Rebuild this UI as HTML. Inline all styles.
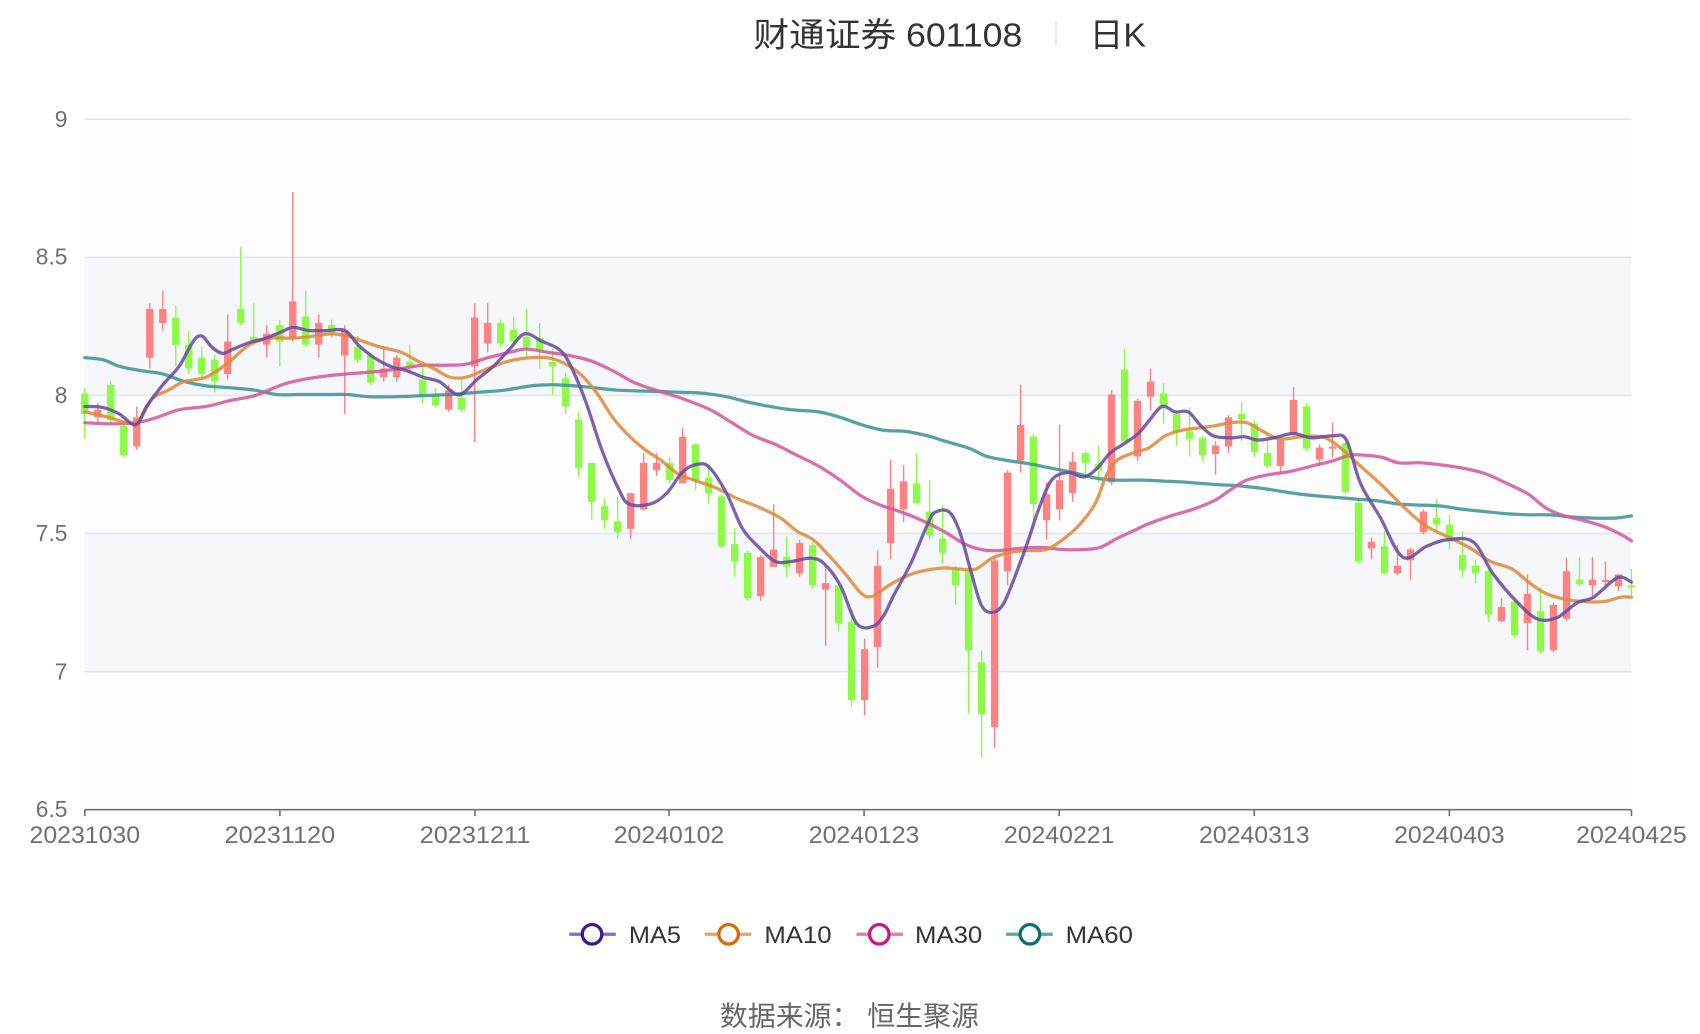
<!DOCTYPE html>
<html><head><meta charset="utf-8"><style>
html,body{margin:0;padding:0;background:#fff;}
svg{display:block;}
</style></head><body>
<svg id="c" width="1700" height="1034" viewBox="0 0 1568 954" xmlns="http://www.w3.org/2000/svg" font-family="'Liberation Sans','Noto Sans CJK SC',sans-serif">
<rect x="0" y="0" width="1568" height="954" fill="#fff"/>
<rect x="78" y="110" width="1427" height="127.4" fill="#fdfdfe"/>
<rect x="78" y="237.4" width="1427" height="127.4" fill="#f5f7fb"/>
<rect x="78" y="364.8" width="1427" height="127.4" fill="#fdfdfe"/>
<rect x="78" y="492.2" width="1427" height="127.4" fill="#f5f7fb"/>
<rect x="78" y="619.6" width="1427" height="127.4" fill="#fdfdfe"/>
<g stroke="#e0e6f1" stroke-width="1.5">
<line x1="78" x2="1505" y1="110" y2="110"/><line x1="78" x2="1505" y1="237.4" y2="237.4"/>
<line x1="78" x2="1505" y1="364.8" y2="364.8"/><line x1="78" x2="1505" y1="492.2" y2="492.2"/>
<line x1="78" x2="1505" y1="619.6" y2="619.6"/>
</g>
<g fill="#6e7079" font-size="21" text-anchor="end">
<text x="62" y="117">9</text><text x="62" y="244">8.5</text><text x="62" y="372">8</text>
<text x="62" y="499">7.5</text><text x="62" y="627">7</text><text x="62" y="754">6.5</text>
</g>
<g id="candles"></g>
<g id="lines" fill="none" stroke-width="3" stroke-linejoin="round" stroke-linecap="round"></g>
<line x1="78" x2="1505" y1="747" y2="747" stroke="#6e7079" stroke-width="1.5"/>
<g id="ticks" stroke="#6e7079" stroke-width="1.5"></g>
<g fill="#6e7079" font-size="22" text-anchor="middle">
<text x="78" y="778" textLength="102" lengthAdjust="spacingAndGlyphs">20231030</text>
<text x="258" y="778" textLength="102" lengthAdjust="spacingAndGlyphs">20231120</text>
<text x="438" y="778" textLength="102" lengthAdjust="spacingAndGlyphs">20231211</text>
<text x="617" y="778" textLength="102" lengthAdjust="spacingAndGlyphs">20240102</text>
<text x="797" y="778" textLength="102" lengthAdjust="spacingAndGlyphs">20240123</text>
<text x="977" y="778" textLength="102" lengthAdjust="spacingAndGlyphs">20240221</text>
<text x="1157" y="778" textLength="102" lengthAdjust="spacingAndGlyphs">20240313</text>
<text x="1337" y="778" textLength="102" lengthAdjust="spacingAndGlyphs">20240403</text>
<text x="1505" y="778" textLength="102" lengthAdjust="spacingAndGlyphs">20240425</text>
</g>
<text x="695" y="43" font-size="31" fill="#333" textLength="248" lengthAdjust="spacingAndGlyphs">财通证券 601108</text>
<line x1="974" x2="974" y1="20" y2="42" stroke="#e6e6e6" stroke-width="1.5"/>
<text x="1005" y="43" font-size="31" fill="#333" textLength="52" lengthAdjust="spacingAndGlyphs">日K</text>
<g stroke-width="3">
<line x1="525" x2="568" y1="862" y2="862" stroke="#8a6cc0"/><circle cx="546" cy="862" r="9" fill="#fff" stroke="#3b1a8c"/>
<line x1="650" x2="693" y1="862" y2="862" stroke="#e8a46a"/><circle cx="672" cy="862" r="9" fill="#fff" stroke="#d46b0c"/>
<line x1="790" x2="833" y1="862" y2="862" stroke="#e07ab5"/><circle cx="811" cy="862" r="9" fill="#fff" stroke="#c71a7a"/>
<line x1="928" x2="971" y1="862" y2="862" stroke="#5aa5a5"/><circle cx="950" cy="862" r="9" fill="#fff" stroke="#0a6e6e"/>
</g>
<g font-size="22" fill="#333">
<text x="580" y="870" textLength="48" lengthAdjust="spacingAndGlyphs">MA5</text>
<text x="705" y="870" textLength="62" lengthAdjust="spacingAndGlyphs">MA10</text>
<text x="844" y="870" textLength="62" lengthAdjust="spacingAndGlyphs">MA30</text>
<text x="983" y="870" textLength="62" lengthAdjust="spacingAndGlyphs">MA60</text>
</g>
<text x="664" y="946" font-size="25" fill="#666" textLength="239" lengthAdjust="spacingAndGlyphs">数据来源：  恒生聚源</text>
</svg>
<script>
var NS="http://www.w3.org/2000/svg";
function el(p,t,a){var e=document.createElementNS(NS,t);for(var k in a)e.setAttribute(k,a[k]);p.appendChild(e);return e;}
var tk=document.getElementById('ticks');
[78,258,438,617,797,977,1157,1337,1505].forEach(function(x){el(tk,'line',{x1:x,x2:x,y1:747,y2:753});});
var C=[
['g',363,382,358,405],['r',378,385,372,392],['g',355,388,352,390],['g',393,420,388,422],['r',385,412,375,415],
['r',285,330,280,340],['r',285,298,268,305],['g',293,318,282,338],['g',318,340,305,345],['g',330,345,320,350],
['g',332,352,327,362],['r',315,345,290,350],['g',285,298,228,300],['g',311,314,280,318],['r',308,318,300,330],
['g',300,315,295,338],['r',278,312,177,315],['g',292,318,268,320],['r',298,318,290,330],['g',300,307,295,312],
['r',305,328,300,382],['g',320,332,310,335],['g',328,353,325,355],['r',340,348,320,352],['r',330,348,328,352],
['g',334,338,318,342],['g',350,366,338,372],['g',364,374,358,376],['r',360,378,355,380],['g',367,378,348,380],
['r',293,338,280,408],['r',298,317,280,325],['g',298,317,295,320],['g',304,315,292,320],['g',311,320,285,330],
['g',312,323,298,340],['g',334,338,322,364],['g',349,375,344,382],['g',387,432,380,440],['g',427,463,427,480],
['g',467,480,460,488],['g',481,491,458,497],['r',455,488,455,497],['r',427,470,418,471],['r',427,434,418,439],
['g',427,443,422,446],['r',403,446,395,446],['g',410,443,409,452],['g',441,455,429,465],['g',458,504,456,506],
['g',502,518,487,532],['g',510,552,508,554],['r',514,550,512,554],['r',507,523,465,523],['g',514,523,495,532],
['r',501,529,498,532],['g',503,540,500,543],['r',538,544,522,596],['g',540,575,538,582],['g',574,646,562,652],
['r',599,646,589,660],['r',522,597,508,616],['r',451,501,424,516],['r',444,470,429,482],['g',446,464,418,465],
['g',472,494,443,498],['g',497,510,466,520],['g',526,540,522,558],['g',526,600,522,658],['g',611,659,600,699],
['r',517,671,514,690],['r',436,527,434,540],['r',392,425,355,436],['g',403,465,400,487],['r',456,480,445,498],
['r',443,470,392,480],['r',426,455,417,463],['g',418,427,416,441],['g',428,434,411,445],['r',364,445,360,448],
['g',341,407,322,410],['r',370,421,368,425],['r',352,366,340,379],['g',363,375,353,391],['g',382,399,380,411],
['g',398,405,376,421],['g',404,420,402,426],['r',411,419,407,438],['r',385,412,383,418],['g',382,387,371,407],
['g',391,417,388,422],['g',418,430,405,432],['r',406,430,404,437],['r',369,400,357,402],['g',375,414,372,416],
['r',413,424,410,430],['r',412,414,390,422],['g',409,454,407,456],['g',464,518,460,520],['r',500,506,496,516],
['g',504,529,490,530],['r',522,529,503,531],['r',507,517,505,535],['r',472,491,470,493],['g',478,484,460,490],
['g',484,500,475,507],['g',512,526,490,533],['g',522,529,516,538],['g',527,567,525,574],['r',560,573,552,574],
['g',555,586,553,588],['r',548,575,530,600],['g',564,601,542,603],['r',558,600,556,602],['r',527,571,515,573],
['g',535,539,514,541],['r',535,540,514,550],['r',535,537,518,540],['r',530,541,530,545],['g',540,542,525,550]
];
var cg=document.getElementById('candles');
var N=C.length, step=(1505-78)/(N-1);
C.forEach(function(c,i){
  var x=78+i*step, col=c[0]=='r'?'#ff8282':'#8cfa46';
  el(cg,'line',{x1:x,x2:x,y1:c[3],y2:c[4],stroke:col,'stroke-width':1.3});
  el(cg,'rect',{x:x-3.4,y:c[1],width:6.8,height:Math.max(2,c[2]-c[1]),fill:col});
});
function path(pts){
  var d='M'+pts[0][0]+','+pts[0][1];
  for(var i=0;i<pts.length-1;i++){
    var p0=pts[i-1]||pts[i],p1=pts[i],p2=pts[i+1],p3=pts[i+2]||p2;
    var c1=[p1[0]+(p2[0]-p0[0])/6,p1[1]+(p2[1]-p0[1])/6],c2=[p2[0]-(p3[0]-p1[0])/6,p2[1]-(p3[1]-p1[1])/6];
    d+=' C'+c1[0].toFixed(1)+','+c1[1].toFixed(1)+' '+c2[0].toFixed(1)+','+c2[1].toFixed(1)+' '+p2[0]+','+p2[1];
  }
  return d;
}
function P(a){var r=[];for(var i=0;i<a.length;i+=2)r.push([a[i],a[i+1]]);return r;}
var MA60=P([78,330,95,332,110,338,130,342,150,345,170,352,190,356,215,358,235,360,255,364,275,364,300,364,320,364,340,366,365,366,390,365,415,364,440,362,465,360,490,356,510,355,530,356,550,358,570,360,600,361,630,362,650,363,670,366,690,371,710,375,730,378,755,380,775,385,795,392,815,397,835,398,855,402,875,408,895,414,910,421,930,425,950,428,970,432,990,436,1010,441,1030,443,1055,443,1075,444,1095,445,1120,447,1140,448,1160,450,1180,453,1200,456,1220,458,1245,460,1270,462,1290,465,1310,466,1330,467,1350,470,1370,472,1390,474,1410,475,1430,475,1450,477,1470,478,1490,478,1505,476]);
var MA30=P([78,390,100,391,125,390,145,385,165,378,190,375,210,370,235,365,260,355,280,350,300,347,320,345,345,343,370,340,390,337,410,337,430,336,450,330,470,325,485,322,505,325,525,328,545,333,565,342,585,353,605,360,630,368,655,378,675,390,695,402,715,410,735,420,755,430,775,443,795,458,812,466,830,472,850,480,870,490,890,502,905,507,920,508,940,506,960,505,980,507,1000,507,1015,505,1030,497,1045,490,1060,483,1080,476,1100,470,1120,462,1135,452,1150,443,1170,438,1190,435,1210,430,1230,425,1245,420,1260,420,1275,422,1290,427,1310,427,1330,429,1350,432,1370,437,1390,446,1410,456,1425,468,1440,475,1460,480,1480,486,1495,493,1505,499]);
var MA10=P([78,380,100,385,125,390,140,368,155,360,170,352,190,348,210,335,230,318,250,312,270,312,290,310,305,308,320,310,335,315,350,320,370,325,385,333,400,340,415,348,430,348,450,340,470,333,490,330,505,330,520,335,535,345,550,362,565,385,580,402,595,415,610,425,625,437,640,443,660,450,680,460,700,468,720,478,735,490,750,498,765,513,780,530,795,548,805,550,820,540,835,532,850,527,870,524,885,525,900,525,915,515,930,510,945,508,965,507,980,498,995,485,1010,465,1020,440,1030,425,1045,418,1060,413,1075,402,1090,397,1105,395,1120,393,1135,390,1150,390,1165,398,1180,405,1200,403,1220,403,1235,412,1255,430,1275,448,1295,468,1315,485,1335,495,1355,505,1375,518,1395,525,1410,537,1425,547,1440,552,1460,555,1480,555,1495,551,1505,551]);
var MA5=P([78,375,95,376,110,382,125,392,135,375,150,355,165,338,178,315,186,310,195,320,205,326,215,322,230,316,245,312,260,306,270,302,285,305,300,305,318,305,330,318,345,330,360,338,375,342,390,348,405,352,415,360,425,364,440,350,455,338,470,322,484,308,500,315,515,322,525,335,540,370,555,415,570,450,580,465,600,465,615,455,630,435,645,428,655,432,670,455,685,488,700,505,715,518,730,518,748,515,760,520,775,540,790,575,805,578,815,568,825,548,840,520,855,485,862,473,875,472,885,490,895,525,905,558,915,565,925,558,935,535,948,500,958,470,970,443,985,436,1000,440,1012,432,1024,418,1036,410,1050,400,1060,388,1072,375,1084,380,1096,380,1107,392,1119,402,1135,404,1148,403,1160,406,1175,404,1193,400,1210,404,1230,402,1242,406,1255,446,1273,477,1294,514,1316,504,1335,498,1359,500,1377,529,1399,555,1418,571,1436,570,1455,556,1470,551,1492,533,1505,537]);
var lg=document.getElementById('lines');
[[MA60,'#3f9494'],[MA30,'#d45a9c'],[MA10,'#df8a3c'],[MA5,'#6a4ba0']].forEach(function(m){
  el(lg,'path',{d:path(m[0]),stroke:m[1],'stroke-opacity':0.88});
});
</script>
</body></html>
